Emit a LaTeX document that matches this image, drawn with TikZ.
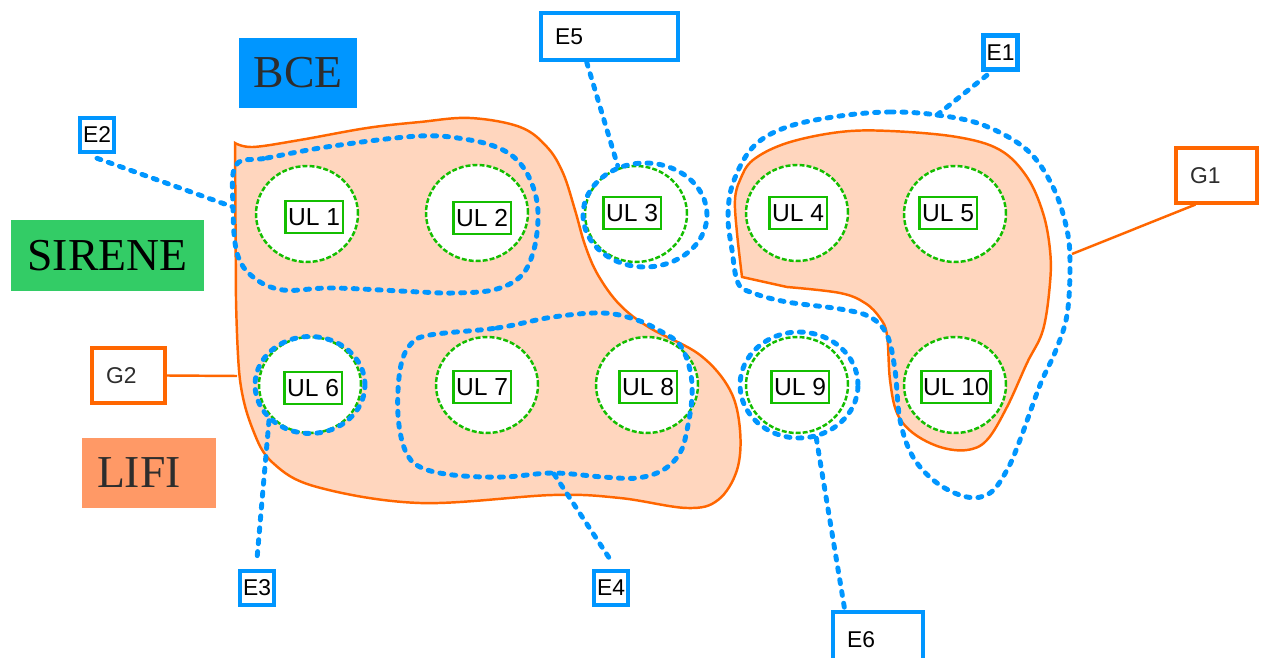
\documentclass[tikz,border=0pt]{standalone}
\usepackage{fontspec}
\setmainfont{Liberation Serif}
\setsansfont{Liberation Sans}
\usepackage{tikz}
\usetikzlibrary{shapes.geometric}

\definecolor{bleu}{RGB}{0,150,255}
\definecolor{vert}{RGB}{20,190,0}
\definecolor{vertclair}{RGB}{51,204,102}
\definecolor{orangetrait}{RGB}{255,102,0}
\definecolor{saumon}{RGB}{255,214,190}
\definecolor{saumonfonce}{RGB}{255,153,102}
\definecolor{texte}{RGB}{45,45,45}

\begin{document}
\begin{tikzpicture}[x=0.02cm,y=-0.02cm]
		\tikzstyle{groupe}=[draw=orangetrait, line width=1.4pt, fill=saumon]
		\tikzstyle{ensemble}=[draw=bleu, line width=2.8pt, dash pattern=on 2.3pt off 4.5pt, line cap=round]
		\tikzstyle{zone}=[ellipse, draw=vert, line width=1.4pt, dash pattern=on 2.8pt off 1.2pt, fill=white, minimum width=2.04cm, minimum height=1.92cm, inner sep=0pt]
		\tikzstyle{anneau}=[ellipse, ensemble, inner sep=0pt]
		\tikzstyle{ul}=[rectangle, draw=vert, line width=1.7pt, fill=white, inner sep=1pt, minimum width=1.16cm, minimum height=0.64cm, text=black, font=\sffamily\fontsize{14}{15}\selectfont]
		\tikzstyle{etiq}=[rectangle, draw=bleu, line width=2.6pt, fill=white, inner sep=0pt, minimum size=0.68cm, text=black, font=\sffamily\fontsize{13}{14}\selectfont]
		\tikzstyle{cadre}=[etiq, inner xsep=0.28cm, align=left, minimum height=0.94cm]
		\tikzstyle{gcadre}=[cadre, draw=orangetrait, line width=1.8pt, text=texte, minimum height=1.1cm]
		\tikzstyle{base}=[rectangle, inner sep=0pt, minimum height=1.4cm, text=texte, font=\fontsize{26}{28}\selectfont]
		\tikzstyle{lien}=[draw=orangetrait, line width=1.4pt]

		\useasboundingbox (0,0) rectangle (1261,658);

		% groupes G2 et G1
		\draw [groupe] plot [smooth, tension=0.6] coordinates {(235,143) (253,147) (300,140) (367,128) (420,122) (470,118) (520,127) (547,147) (563,173) (575,210) (585,245) (598,275) (620,305) (650,328) (700,355) (730,390) (740,430) (737,470) (718,500) (687,508) (620,498) (553,495) (420,503) (317,487) (273,463) (253,430) (240,380) (236,300)} -- cycle;
		\draw [groupe] plot [smooth, tension=0.6] coordinates {(742,277) (737,233) (735,200) (740,180) (753,160) (787,143) (840,132) (890,131) (957,137) (1000,150) (1027,177) (1043,213) (1050,250) (1050,283) (1043,330) (1027,363) (1007,407) (987,440) (967,450) (940,447) (913,433) (897,413) (890,380) (887,335) (880,318) (865,303) (840,293) (787,287)} -- cycle;

		% unites locales
		\node [zone] (z1) at (307,214) {};
		\node [zone] (z2) at (477,213) {};
		\node [zone] (z3) at (636,214) {};
		\node [zone] (z4) at (797,213) {};
		\node [zone] (z5) at (955,214) {};
		\node [zone] (z6) at (310,385) {};
		\node [zone] (z7) at (487,385) {};
		\node [zone] (z8) at (647,385) {};
		\node [zone] (z9) at (797,385) {};
		\node [zone] (z10) at (955,385) {};

		% entreprises
		\draw [ensemble] plot [smooth cycle, tension=0.6] coordinates {(236,165) (267,158) (333,146) (420,136) (470,140) (503,150) (523,167) (535,193) (538,220) (533,253) (520,277) (493,290) (453,293) (420,292) (333,288) (283,290) (253,277) (237,253) (233,207)};
		\draw [ensemble] plot [smooth cycle, tension=0.6] coordinates {(430,335) (497,328) (553,317) (603,313) (637,320) (662,332) (680,345) (690,370) (692,397) (687,430) (680,453) (663,470) (637,478) (603,477) (553,473) (503,477) (453,475) (420,467) (405,450) (398,415) (400,370) (410,345)};
		\draw [ensemble] plot [smooth cycle, tension=0.6] coordinates {(840,116) (890,112) (937,115) (983,125) (1027,150) (1053,187) (1067,230) (1070,267) (1067,315) (1056,350) (1040,385) (1020,440) (1007,470) (990,493) (967,497) (937,483) (913,457) (900,420) (895,370) (887,335) (870,317) (840,309) (787,302) (753,293) (738,283) (732,250) (728,217) (733,183) (753,147) (787,127)};
		\node [anneau, minimum width=2.2cm, minimum height=1.94cm] (r3) at (310,385) {};
		\node [anneau, minimum width=2.48cm, minimum height=2.08cm] (r5) at (645,215) {};
		\node [anneau, minimum width=2.36cm, minimum height=2.12cm] (r6) at (799,385) {};
		\coordinate (p2) at (233,207);
		\coordinate (p4) at (554,474);
		\coordinate (p1) at (937,115);
		\coordinate (q2) at (237,376);
		\coordinate (q1) at (1072,254);

		% etiquettes
		\node [ul] (u1) at (314,217) {UL 1};
		\node [ul] (u2) at (482,218) {UL 2};
		\node [ul] (u3) at (632,213) {UL 3};
		\node [ul] (u4) at (798,213) {UL 4};
		\node [ul] (u5) at (948,213) {UL 5};
		\node [ul] (u6) at (313,388) {UL 6};
		\node [ul] (u7) at (482,387) {UL 7};
		\node [ul] (u8) at (648,387) {UL 8};
		\node [ul] (u9) at (800,387) {UL 9};
		\node [ul] (u10) at (956,387) {UL 10};

		\node [etiq] (e2) at (97,135) {E2};
		\node [etiq] (e1) at (1000.5,52.5) {E1};
		\node [etiq] (e3) at (257,588) {E3};
		\node [etiq] (e4) at (611,588) {E4};
		\node [cadre, text width=2.18cm] (e5) at (609.5,36.5) {E5};
		\node [cadre, text width=1.24cm, minimum height=1.1cm] (e6) at (878,639.5) {E6};
		\node [gcadre, text width=1.06cm] (g1) at (1216.5,175.5) {G1};
		\node [gcadre, text width=0.9cm] (g2) at (128.5,375.5) {G2};

		\draw [ensemble] ([yshift=-0.08cm]e2.south) -- (p2);
		\draw [ensemble] (r3.221) -- ([yshift=0.2cm]e3.north);
		\draw [ensemble] (p4) -- ([yshift=0.16cm]e4.north);
		\draw [ensemble] ([xshift=0.96cm]e5.south west) -- (r5.119);
		\draw [ensemble] (r6.-72) -- ([xshift=0.28cm]e6.north west);
		\draw [ensemble] (p1) -- ([xshift=0.2cm]e1.south west);
		\draw [lien] ([xshift=0.42cm]g1.south west) -- (q1);
		\draw [lien] (g2.east) -- (q2);

		% bases
		\node [base, fill=bleu, minimum width=2.36cm] (bce) at (298,73) {BCE};
		\node [base, fill=vertclair, minimum width=3.86cm, minimum height=1.42cm, text=black] (sirene) at (107.5,255.5) {SIRENE};
		\node [base, fill=saumonfonce, inner xsep=0.3cm, text width=2.08cm, align=left] (lifi) at (149,473) {LIFI};
	\end{tikzpicture}
\end{document}
